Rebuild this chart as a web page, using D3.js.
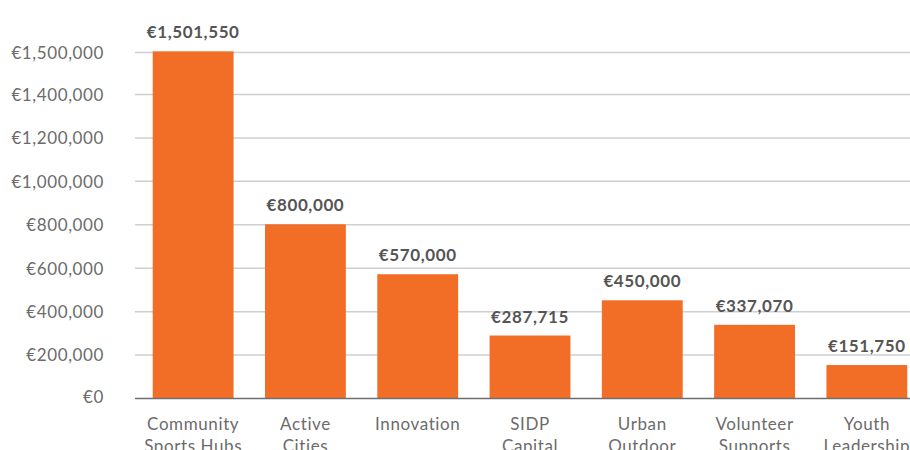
<!DOCTYPE html>
<html>
<head>
<meta charset="utf-8">
<script src="https://cdn.jsdelivr.net/npm/d3@7"></script>
<style>
  html, body { margin: 0; padding: 0; overflow: hidden; background: #fff; }
  svg { display: block; font-family: Lato, sans-serif; }
  .grid line { stroke: #cfcfcf; stroke-width: 1.5; }
  .grid .domain { display: none; }
  .tick-label { fill: #6b6b6b; font-size: 17px; letter-spacing: 0.6px; }
  .value { fill: #555; font-size: 17px; font-weight: 700; letter-spacing: 0.6px; }
  .cat { fill: #6b6b6b; font-size: 17px; letter-spacing: 0.6px; }
</style>
</head>
<body>
<script>
const categories = [
  ['Community', 'Sports Hubs'],
  ['Active', 'Cities'],
  ['Innovation'],
  ['SIDP', 'Capital'],
  ['Urban', 'Outdoor'],
  ['Volunteer', 'Supports'],
  ['Youth', 'Leadership']
]
const values = [1501550, 800000, 570000, 287715, 450000, 337070, 151750]
const yTicks = [0, 200000, 400000, 600000, 800000, 1000000, 1200000, 1400000, 1500000]

const svgWidth = 960, svgHeight = 450
const left = 137, right = 923, bottom = 398

const svg = d3.select('body').append('svg')
  .attr('width', svgWidth)
  .attr('height', svgHeight)

const x = d3.scaleBand()
  .domain(d3.range(values.length))
  .range([left, right])
  .paddingInner(0.28)
  .paddingOuter(0.14)

// the top tick of the source axis sits closer than the others, so the scale is piecewise
const y = d3.scaleLinear()
  .domain([0, 1400000, 1500000])
  .range([bottom, 94, 52])

const fmt = d => '€' + d3.format(',')(d)

// gridlines
svg.append('g')
  .attr('class', 'grid')
  .attr('transform', 'translate(' + 135 + ',0)')
  .call(d3.axisLeft(y).tickValues(yTicks.slice(1)).tickSize(-(svgWidth - 135)).tickFormat(''))

// tick labels
svg.append('g')
  .selectAll('text')
  .data(yTicks)
  .join('text')
  .attr('class', 'tick-label')
  .attr('x', 104)
  .attr('y', d => d === 0 ? bottom - 2 : y(d))
  .attr('dy', '0.4em')
  .attr('text-anchor', 'end')
  .text(fmt)

// bars
svg.append('g')
  .selectAll('rect')
  .data(values)
  .join('rect')
  .attr('x', (d, i) => x(i))
  .attr('y', d => y(d))
  .attr('width', x.bandwidth())
  .attr('height', d => bottom - y(d))
  .attr('fill', '#f26d26')

// baseline
svg.append('line')
  .attr('x1', 135)
  .attr('x2', svgWidth)
  .attr('y1', bottom + 0.5)
  .attr('y2', bottom + 0.5)
  .attr('stroke', '#6f6f6f')
  .attr('stroke-width', 1.5)

// value labels
svg.append('g')
  .selectAll('text')
  .data(values)
  .join('text')
  .attr('class', 'value')
  .attr('x', (d, i) => x(i) + x.bandwidth() / 2)
  .attr('y', d => y(d) - 13)
  .attr('text-anchor', 'middle')
  .text(fmt)

// category labels
const cat = svg.append('g')
  .selectAll('text')
  .data(categories)
  .join('text')
  .attr('class', 'cat')
  .attr('text-anchor', 'middle')
  .attr('transform', (d, i) => 'translate(' + (x(i) + x.bandwidth() / 2) + ',' + 430 + ')')

cat.selectAll('tspan')
  .data(d => d)
  .join('tspan')
  .attr('x', 0)
  .attr('dy', (d, i) => i === 0 ? 0 : 22)
  .text(d => d)
</script>
</body>
</html>
